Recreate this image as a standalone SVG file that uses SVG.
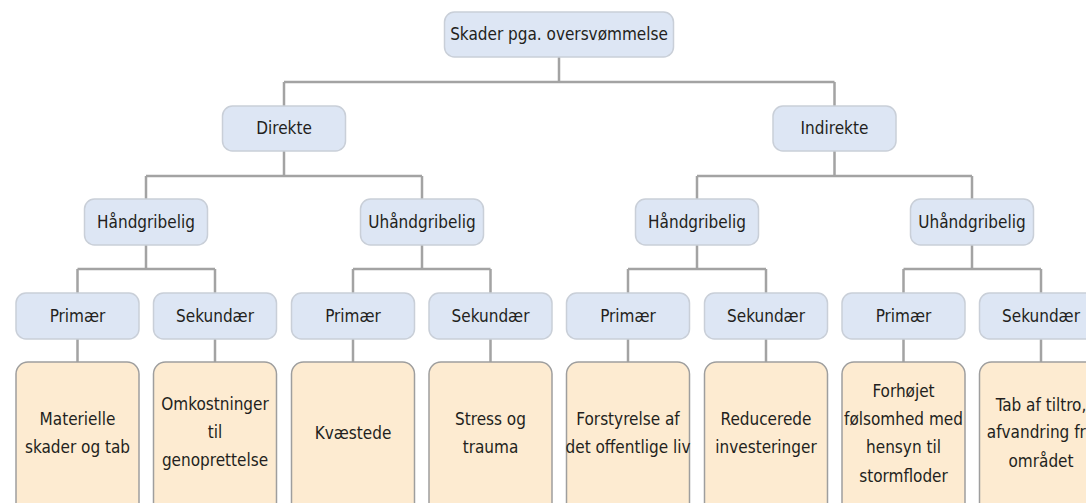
<svg xmlns="http://www.w3.org/2000/svg" width="1086" height="503" viewBox="0 0 1086 503">
  <style>
    .cat rect { fill: #dde6f4; stroke: #c9cfd8; stroke-width: 1.5; }
    .leaf rect { fill: #fdebd1; stroke: #9e9e9e; stroke-width: 1.5; }
    text { font-family: "Liberation Sans Narrow", "DejaVu Sans Condensed", "Liberation Sans", sans-serif; font-stretch: condensed; font-size: 17px; fill: #231f20; text-anchor: middle; }
    #connectors path { fill: none; stroke: #a3a3a3; stroke-width: 2.5; }
  </style>

  <!-- tree connectors -->
  <g id="connectors">
    <path d="M559 57 V82 M284 82 H834.5 M284 82 V106 M834.5 82 V106"/>
    <path d="M284 151 V176 M146 176 H422 M146 176 V199 M422 176 V199"/>
    <path d="M834.5 151 V176 M697 176 H972 M697 176 V199 M972 176 V199"/>
    <path d="M146 245 V269 M77.5 269 H215 M77.5 269 V293 M215 269 V293"/>
    <path d="M422 245 V269 M353 269 H490.5 M353 269 V293 M490.5 269 V293"/>
    <path d="M697 245 V269 M628 269 H766 M628 269 V293 M766 269 V293"/>
    <path d="M972 245 V269 M903.5 269 H1041 M903.5 269 V293 M1041 269 V293"/>
    <path d="M77.5 339 V362 M215 339 V362 M353 339 V362 M490.5 339 V362 M628 339 V362 M766 339 V362 M903.5 339 V362 M1041 339 V362"/>
  </g>

  <!-- root -->
  <g id="root" class="cat">
    <rect x="444.5" y="12" width="229" height="45" rx="10"/>
    <text x="559" y="40">Skader pga. oversvømmelse</text>
  </g>

  <!-- level 2 -->
  <g id="direkte" class="cat">
    <rect x="222.5" y="106" width="123" height="45" rx="10"/>
    <text x="284" y="134">Direkte</text>
  </g>
  <g id="indirekte" class="cat">
    <rect x="773" y="106" width="123" height="45" rx="10"/>
    <text x="834.5" y="134">Indirekte</text>
  </g>

  <!-- level 3 -->
  <g id="d-haand" class="cat">
    <rect x="84.5" y="199" width="123" height="46" rx="10"/>
    <text x="146" y="228">Håndgribelig</text>
  </g>
  <g id="d-uhaand" class="cat">
    <rect x="360.5" y="199" width="123" height="46" rx="10"/>
    <text x="422" y="228">Uhåndgribelig</text>
  </g>
  <g id="i-haand" class="cat">
    <rect x="635.5" y="199" width="123" height="46" rx="10"/>
    <text x="697" y="228">Håndgribelig</text>
  </g>
  <g id="i-uhaand" class="cat">
    <rect x="910.5" y="199" width="123" height="46" rx="10"/>
    <text x="972" y="228">Uhåndgribelig</text>
  </g>

  <!-- level 4 -->
  <g id="p1" class="cat"><rect x="16" y="293" width="123" height="46" rx="10"/><text x="77.5" y="322">Primær</text></g>
  <g id="s1" class="cat"><rect x="153.5" y="293" width="123" height="46" rx="10"/><text x="215" y="322">Sekundær</text></g>
  <g id="p2" class="cat"><rect x="291.5" y="293" width="123" height="46" rx="10"/><text x="353" y="322">Primær</text></g>
  <g id="s2" class="cat"><rect x="429" y="293" width="123" height="46" rx="10"/><text x="490.5" y="322">Sekundær</text></g>
  <g id="p3" class="cat"><rect x="566.5" y="293" width="123" height="46" rx="10"/><text x="628" y="322">Primær</text></g>
  <g id="s3" class="cat"><rect x="704.5" y="293" width="123" height="46" rx="10"/><text x="766" y="322">Sekundær</text></g>
  <g id="p4" class="cat"><rect x="842" y="293" width="123" height="46" rx="10"/><text x="903.5" y="322">Primær</text></g>
  <g id="s4" class="cat"><rect x="979.5" y="293" width="123" height="46" rx="10"/><text x="1041" y="322">Sekundær</text></g>

  <!-- level 5: consequences -->
  <g id="c1" class="leaf">
    <rect x="16" y="362" width="123" height="155" rx="12"/>
    <text x="77.5" y="425">Materielle</text>
    <text x="77.5" y="453">skader og tab</text>
  </g>
  <g id="c2" class="leaf">
    <rect x="153.5" y="362" width="123" height="155" rx="12"/>
    <text x="215" y="410">Omkostninger</text>
    <text x="215" y="438">til</text>
    <text x="215" y="466">genoprettelse</text>
  </g>
  <g id="c3" class="leaf">
    <rect x="291.5" y="362" width="123" height="155" rx="12"/>
    <text x="353" y="439">Kvæstede</text>
  </g>
  <g id="c4" class="leaf">
    <rect x="429" y="362" width="123" height="155" rx="12"/>
    <text x="490.5" y="425">Stress og</text>
    <text x="490.5" y="453">trauma</text>
  </g>
  <g id="c5" class="leaf">
    <rect x="566.5" y="362" width="123" height="155" rx="12"/>
    <text x="628" y="425">Forstyrelse af</text>
    <text x="628" y="453">det offentlige liv</text>
  </g>
  <g id="c6" class="leaf">
    <rect x="704.5" y="362" width="123" height="155" rx="12"/>
    <text x="766" y="425">Reducerede</text>
    <text x="766" y="453">investeringer</text>
  </g>
  <g id="c7" class="leaf">
    <rect x="842" y="362" width="123" height="155" rx="12"/>
    <text x="903.5" y="397">Forhøjet</text>
    <text x="903.5" y="425">følsomhed med</text>
    <text x="903.5" y="453">hensyn til</text>
    <text x="903.5" y="482">stormfloder</text>
  </g>
  <g id="c8" class="leaf">
    <rect x="979.5" y="362" width="123" height="155" rx="12"/>
    <text x="1041" y="411">Tab af tiltro,</text>
    <text x="1041" y="438">afvandring fra</text>
    <text x="1041" y="467">området</text>
  </g>
</svg>
